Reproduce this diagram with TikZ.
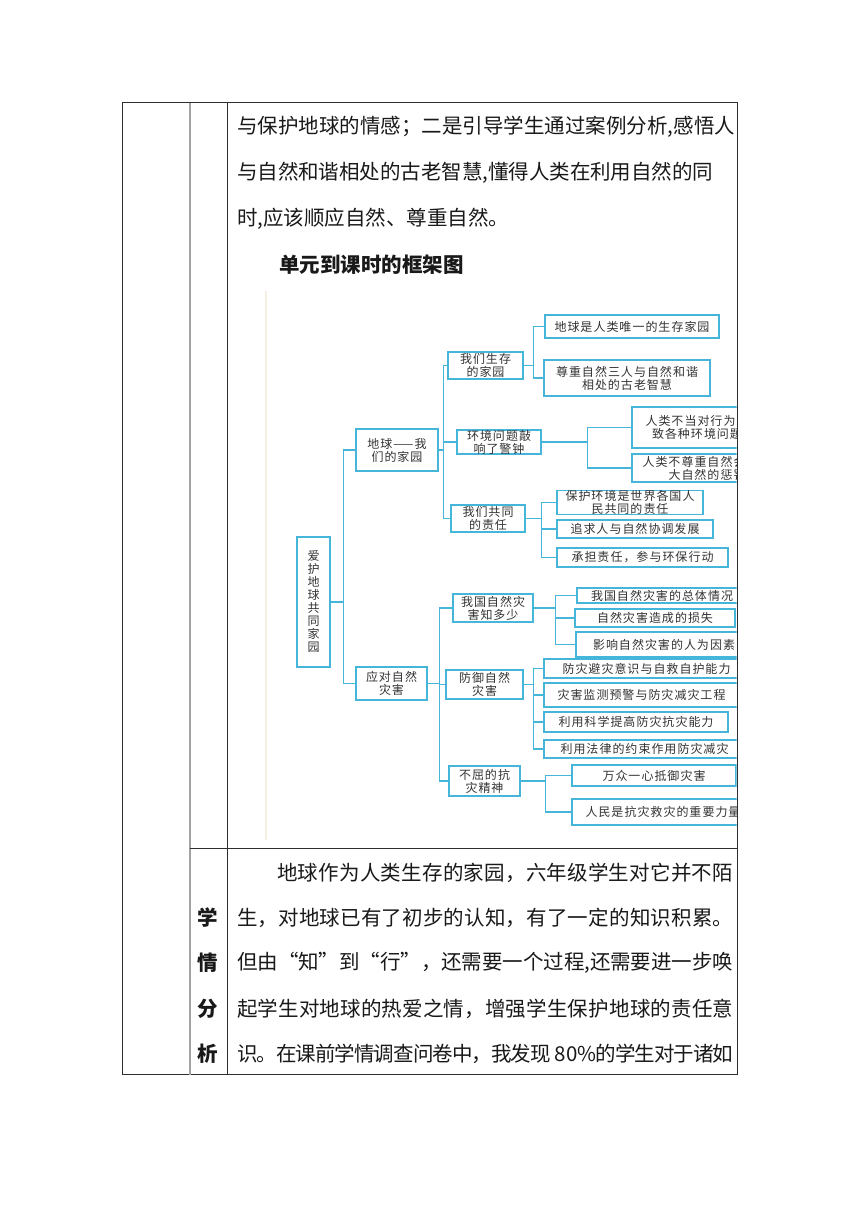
\documentclass[tikz,border=0pt]{standalone}
\usepackage{fontspec}
\setmainfont{Noto Sans CJK SC}
\usetikzlibrary{positioning}
\definecolor{mapcyan}{HTML}{45B5DA}
\definecolor{maptext}{HTML}{333333}
\definecolor{rulegray}{HTML}{A3A3A3}
\definecolor{rulebk}{HTML}{2E2E2E}
\definecolor{imgedge}{HTML}{F5EEE2}
% glue between CJK characters, set per font
\newskip\cjkgap
\newcount\cjkchar
\newcommand{\cjkrange}[2]{\cjkchar=#1
  \loop \XeTeXcharclass\cjkchar=1 \advance\cjkchar by 1
  \ifnum\cjkchar<#2 \repeat}
\cjkrange{"4E00}{"A000}
\cjkrange{"3000}{"3040}
\cjkrange{"FF00}{"FF61}
\cjkrange{"201C}{"201E}
\XeTeXinterchartoks 0 1 = {\hskip\cjkgap}
\XeTeXinterchartoks 1 0 = {\hskip\cjkgap}
\XeTeXinterchartoks 1 1 = {\hskip\cjkgap}
\newcommand{\bodyfont}{\fontsize{20.5}{25}\selectfont
  \XeTeXinterchartokenstate=1 \cjkgap=0pt plus 4pt minus 3pt\relax}
\newcommand{\mapfont}{\fontsize{12}{13}\selectfont
  \XeTeXinterchartokenstate=1 \cjkgap=1pt\relax}
\newcommand{\fullline}[2]{\hbox to #1pt{#2}}

\begin{document}
\begin{tikzpicture}[
  x=1pt, y=-1pt,
  txt/.style   = {anchor=west, inner sep=0pt, font=\bodyfont, text=black!90},
  side/.style  = {inner sep=0pt, font=\bodyfont\bfseries, text=black!90},
  mbox/.style 2 args = {draw=mapcyan, fill=white, line width=1.4pt,
                  minimum width=#1pt, minimum height=#2pt,
                  inner sep=0pt, align=center, font=\mapfont, text=maptext},
  link/.style  = {draw=mapcyan, line width=1.4pt},
  rule/.style  = {draw=rulebk, line width=0.9pt},
]
\useasboundingbox[fill=white] (0,0) rectangle (860,1216);

% text above the framework chart
\node[txt] (up1) at (237,127)
    {\fullline{498}{与保护地球的情感；二是引导学生通过案例分析,感悟人}};
\node[txt] (up2) at (237,173)
    {\fullline{476}{与自然和谐相处的古老智慧,懂得人类在利用自然的同}};
\node[txt] (up3) at (237,219) {时,应该顺应自然、尊重自然。};
\node[txt, font=\bodyfont\bfseries] (title) at (279,265) {单元到课时的框架图};

% the chart (clipped at the cell border)
\begin{scope}
\clip (262,288) rectangle (736.5,846);
\draw[imgedge, line width=2.5pt] (266,291) -- (266,840);
\node[mbox={33}{130}] (root) at (313.5,602) {爱\\护\\地\\球\\共\\同\\家\\园};
\node[mbox={82}{42}] (earth)    at (397,450)   {地球——我\\们的家园};
\node[mbox={71}{33}] (disaster) at (391.5,683.5) {应对自然\\灾害};
\node[mbox={75}{27}] (home)  at (485.5,365.5) {我们生存\\的家园};
\node[mbox={84}{24}] (alarm) at (499,442)     {环境问题敲\\响了警钟};
\node[mbox={74}{27}] (duty)  at (488,518.5)   {我们共同\\的责任};
\node[mbox={174}{23}] (only)    at (632,326.5) {地球是人类唯一的生存家园};
\node[mbox={166}{36}] (respect) at (627,378)   {尊重自然三人与自然和谐\\相处的古老智慧};
\node[mbox={130}{41}] (misdeed) at (697,427.5) {人类不当对行为导\\致各种环境问题};
\node[mbox={150}{28}] (punish)  at (707,468)   {人类不尊重自然会受到\\大自然的惩罚};
\node[mbox={146}{23}] (world)   at (630,502.5) {保护环境是世界各国人\\民共同的责任};
\node[mbox={156}{18}] (harmony) at (635,529)   {追求人与自然协调发展};
\node[mbox={171}{19}] (action)  at (642.5,557.5) {承担责任，参与环保行动};
\node[mbox={80}{28}] (know)   at (493,608)   {我国自然灾\\害知多少};
\node[mbox={77}{29}] (defend) at (484.5,684.5) {防御自然\\灾害};
\node[mbox={71}{30}] (spirit) at (484.5,781) {不屈的抗\\灾精神};
\node[mbox={170}{15}] (overall) at (662,595.5) {我国自然灾害的总体情况};
\node[mbox={160}{18}] (loss)    at (655,618)   {自然灾害造成的损失};
\node[mbox={176}{25}] (human)   at (664,644.5) {影响自然灾害的人为因素};
\node[mbox={205}{19}] (aware)   at (646.5,668.5) {防灾避灾意识与自救自护能力};
\node[mbox={195}{24}] (monitor) at (641.5,695) {灾害监测预警与防灾减灾工程};
\node[mbox={184}{20}] (science) at (636,722)   {利用科学提高防灾抗灾能力};
\node[mbox={201}{18}] (law)     at (644.5,749) {利用法律的约束作用防灾减灾};
\node[mbox={164}{21}] (unite)   at (654,775.5) {万众一心抵御灾害};
\node[mbox={182}{26}] (people)  at (663,812)   {人民是抗灾救灾的重要力量};
\draw[link] (root.east) -- ++(13,0) |- (earth.west);
\draw[link] (root.east) -- ++(13,0) |- (disaster.west);
\draw[link] (earth.east) -- ++(5,0) |- (home.west);
\draw[link] (earth.east) -- ++(5,0) |- (alarm.west);
\draw[link] (earth.east) -- ++(5,0) |- (duty.west);
\draw[link] (home.east) -- ++(10,0) |- (only.west);
\draw[link] (home.east) -- ++(10,0) |- (respect.west);
\draw[link] (alarm.east) -- ++(46,0) |- (misdeed.west);
\draw[link] (alarm.east) -- ++(46,0) |- (punish.west);
\draw[link] (duty.east) -- ++(16,0) |- (world.west);
\draw[link] (duty.east) -- ++(16,0) |- (harmony.west);
\draw[link] (duty.east) -- ++(16,0) |- (action.west);
\draw[link] (disaster.east) -- ++(12,0) |- (know.west);
\draw[link] (disaster.east) -- ++(12,0) |- (defend.west);
\draw[link] (disaster.east) -- ++(12,0) |- (spirit.west);
\draw[link] (know.east) -- ++(22,0) |- (overall.west);
\draw[link] (know.east) -- ++(22,0) |- (loss.west);
\draw[link] (know.east) -- ++(22,0) |- (human.west);
\draw[link] (defend.east) -- ++(10,0) |- (aware.west);
\draw[link] (defend.east) -- ++(10,0) |- (monitor.west);
\draw[link] (defend.east) -- ++(10,0) |- (science.west);
\draw[link] (defend.east) -- ++(10,0) |- (law.west);
\draw[link] (spirit.east) -- ++(25,0) |- (unite.west);
\draw[link] (spirit.east) -- ++(25,0) |- (people.west);
\end{scope}

% learner analysis row
\node[side] (xue)  at (208,918)  {学};
\node[side] (qing) at (208,963)  {情};
\node[side] (fen)  at (208,1009) {分};
\node[side] (xi)   at (208,1054) {析};
\node[txt] (low1) at (277,873)
    {\fullline{456}{地球作为人类生存的家园，六年级学生对它并不陌}};
\node[txt] (low2) at (237,918)
    {\fullline{496}{生，对地球已有了初步的认知，有了一定的知识积累。}};
\node[txt] (low3) at (237,963)
    {\fullline{496}{但由“知”到“行”，还需要一个过程,还需要进一步唤}};
\node[txt] (low4) at (237,1009)
    {\fullline{496}{起学生对地球的热爱之情，增强学生保护地球的责任意}};
\node[txt] (low5) at (237,1054)
    {\fullline{496}{识。在课前学情调查问卷中，我发现 80\%的学生对于诸如}};

% table rules
\draw[rule] (122,102.5) rectangle (737,1074.5);
\draw[rulegray, line width=2.2pt] (190,102.5) -- (190,1074.5);
\draw[rule] (227,102.5) -- (227,1074.5);
\draw[rule] (190,848) -- (737,848);
\end{tikzpicture}
\end{document}
